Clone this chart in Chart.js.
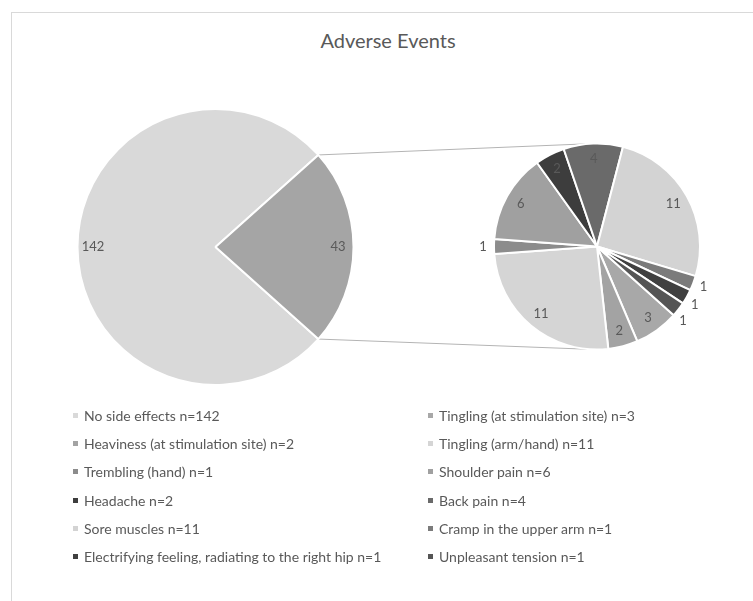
<!DOCTYPE html>
<html>
<head>
<meta charset="utf-8">
<title>Adverse Events</title>
<script src="https://cdn.jsdelivr.net/npm/chart.js@4.4.1/dist/chart.umd.min.js"></script>
<style>
  body { margin: 0; background: #fff; }
  #wrap { position: relative; width: 753px; height: 601px; overflow: hidden; font-family: Lato, "Noto Sans", sans-serif; color: #595959; }
  #frame { position: absolute; left: 11px; top: 12px; width: 800px; height: 700px; border: 1px solid #d9d9d9; }
  #title { position: absolute; left: 0; top: 27px; width: 776px; text-align: center; font-size: 20px; line-height: 26px; }
  canvas { position: absolute; left: 0; top: 0; }
  #legend { position: absolute; left: 73px; top: 401px; display: grid; grid-template-columns: 355px auto; grid-auto-rows: 28.33px; font-size: 14px; }
  .item { display: flex; align-items: center; white-space: nowrap; }
  .item i { display: inline-block; width: 5px; height: 5px; margin-right: 6px; }
</style>
</head>
<body>
<div id="wrap">
  <div id="frame"></div>
  <div id="title">Adverse Events</div>
  <canvas id="mainPie" width="753" height="601"></canvas>
  <canvas id="detailPie" width="753" height="601"></canvas>
  <div id="legend"></div>
</div>
<script>
const noSideEffects = 142;
const detailLabels = [
  'Tingling (at stimulation site)',
  'Heaviness (at stimulation site)',
  'Tingling (arm/hand)',
  'Trembling (hand)',
  'Shoulder pain',
  'Headache',
  'Back pain',
  'Sore muscles',
  'Cramp in the upper arm',
  'Electrifying feeling, radiating to the right hip',
  'Unpleasant tension'
];
const detailCounts = [3, 2, 11, 1, 6, 2, 4, 11, 1, 1, 1];

const mainColors = ['#d9d9d9', '#a5a5a5'];
const detailColors = ['#a8a8a8', '#a3a3a3', '#d5d5d5', '#8c8c8c', '#a0a0a0', '#3d3d3d',
                      '#6a6a6a', '#d3d3d3', '#7b7b7b', '#404040', '#555555'];

const otherTotal = detailCounts.reduce((a, b) => a + b, 0);
const mainCounts = [noSideEffects, otherTotal];
// turn both pies so the "other" wedge sits centred on 3 o'clock
const rotation = 90 + 180 * otherTotal / (noSideEffects + otherTotal);

const FONT = 'Lato, "Noto Sans", sans-serif';

// value labels: inside near the rim, tiny slices pushed outside
const sliceLabels = {
  id: 'sliceLabels',
  afterDatasetsDraw(chart) {
    const ctx = chart.ctx;
    const values = chart.data.datasets[0].data;
    const arcs = chart.getDatasetMeta(0).data;
    ctx.save();
    ctx.font = '13px ' + FONT;
    ctx.fillStyle = '#595959';
    ctx.textAlign = 'center';
    ctx.textBaseline = 'middle';
    let lastOut = -Infinity;
    arcs.forEach((arc, i) => {
      const p = arc.getProps(['x', 'y', 'startAngle', 'endAngle', 'outerRadius'], true);
      let mid = (p.startAngle + p.endAngle) / 2;
      let r = p.outerRadius - 15.5;
      if (p.endAngle - p.startAngle < 0.2) {
        mid = Math.max(mid, lastOut + 0.175);
        lastOut = mid;
        r = p.outerRadius + 11;
      }
      ctx.fillText(String(values[i]), p.x + Math.cos(mid) * r, p.y + Math.sin(mid) * r);
    });
    ctx.restore();
  }
};

const baseOptions = {
  responsive: false,
  animation: false,
  rotation: rotation,
  plugins: { legend: { display: false }, tooltip: { enabled: false } },
  events: []
};

const detailChart = new Chart(document.getElementById('detailPie'), {
  type: 'pie',
  data: {
    labels: detailLabels,
    datasets: [{ data: detailCounts, backgroundColor: detailColors, borderColor: '#fff', borderWidth: 2 }]
  },
  options: { ...baseOptions, radius: 103, layout: { padding: { left: 480, right: 39, top: 130, bottom: 238 } } },
  plugins: [sliceLabels]
});

// lines from the edges of the "other" wedge to the detail pie
const connectors = {
  id: 'connectors',
  beforeDatasetsDraw(chart) {
    const w = chart.getDatasetMeta(0).data[1].getProps(['x', 'y', 'startAngle', 'endAngle', 'outerRadius'], true);
    const d = detailChart.getDatasetMeta(0).data[0].getProps(['x', 'y', 'outerRadius'], true);
    const ctx = chart.ctx;
    ctx.save();
    ctx.strokeStyle = '#b4b4b4';
    ctx.lineWidth = 1;
    [[w.startAngle, 1], [w.endAngle, -1]].forEach(([a, side]) => {
      const px = w.x + Math.cos(a) * w.outerRadius;
      const py = w.y + Math.sin(a) * w.outerRadius;
      const dist = Math.hypot(px - d.x, py - d.y);
      const base = Math.atan2(py - d.y, px - d.x);
      const t = base + side * Math.acos(d.outerRadius / dist);
      ctx.beginPath();
      ctx.moveTo(px, py);
      ctx.lineTo(d.x + Math.cos(t) * d.outerRadius, d.y + Math.sin(t) * d.outerRadius);
      ctx.stroke();
    });
    ctx.restore();
  }
};

new Chart(document.getElementById('mainPie'), {
  type: 'pie',
  data: {
    labels: ['No side effects', 'Adverse events'],
    datasets: [{ data: mainCounts, backgroundColor: mainColors, borderColor: '#fff', borderWidth: 2 }]
  },
  options: { ...baseOptions, radius: 138, layout: { padding: { left: 20, right: 342, top: 100, bottom: 207 } } },
  plugins: [connectors, sliceLabels]
});

// two-column legend, filled row by row
const legendItems = [{ label: 'No side effects', n: noSideEffects, color: mainColors[0] }]
  .concat(detailLabels.map((label, i) => ({ label, n: detailCounts[i], color: detailColors[i] })));
const legend = document.getElementById('legend');
legendItems.forEach(item => {
  const row = document.createElement('div');
  row.className = 'item';
  const box = document.createElement('i');
  box.style.background = item.color;
  row.appendChild(box);
  row.appendChild(document.createTextNode(item.label + ' n=' + item.n));
  legend.appendChild(row);
});
</script>
</body>
</html>
